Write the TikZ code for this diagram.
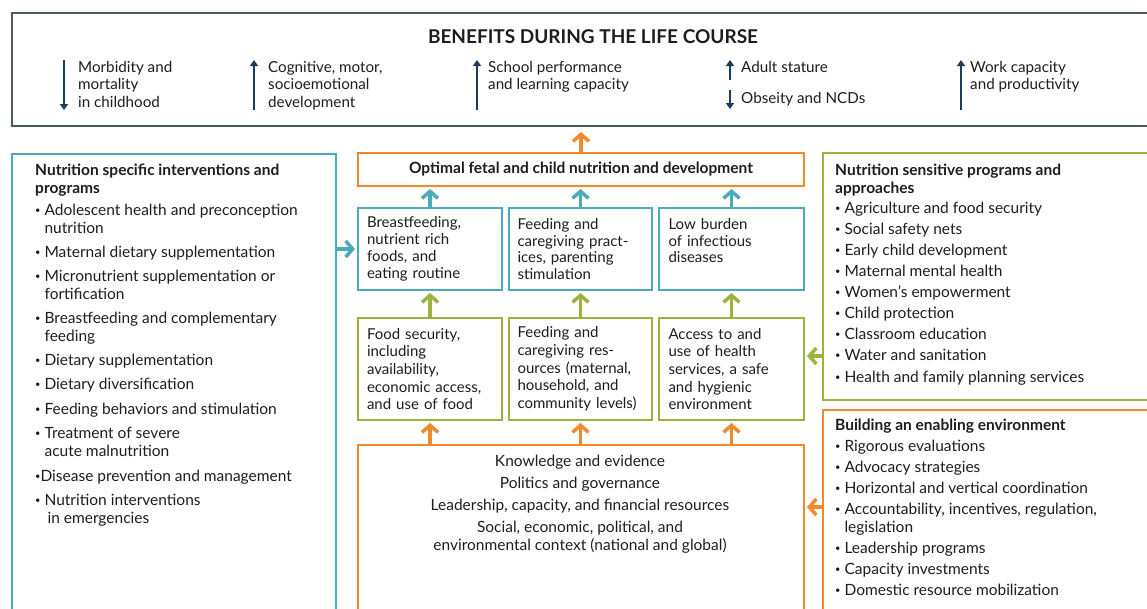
\documentclass[tikz,border=0pt]{standalone}
\usepackage{fontspec}
\setmainfont{Lato}
\usepackage{graphicx}
\usetikzlibrary{positioning}
\usetikzlibrary{arrows.meta}
\usetikzlibrary{calc}
\definecolor{slate}{HTML}{4B5A64}
\definecolor{navy}{HTML}{1D3C5A}
\definecolor{nteal}{HTML}{4AACB8}
\definecolor{ngreen}{HTML}{9BB43C}
\definecolor{norange}{HTML}{F08A2D}
\definecolor{ink}{HTML}{1E1E1E}
\newcommand{\bul}{\raisebox{0.25ex}{\scalebox{0.6}{\textbullet}}}
\tikzstyle{box}=[draw,line width=2pt,inner sep=0pt,anchor=north west]
\tikzstyle{tealbox}=[box,draw=nteal]
\tikzstyle{greenbox}=[box,draw=ngreen]
\tikzstyle{orangebox}=[box,draw=norange]
\tikzstyle{midbox}=[minimum height=82pt,text width=126pt,align=left,text=ink,font=\fontsize{15}{16.8}\selectfont]
\tikzstyle{lowbox}=[midbox,minimum height=102pt,font=\fontsize{15}{17.7}\selectfont]
\tikzstyle{headtext}=[anchor=base west,align=left,inner sep=0pt,text=ink,font=\bfseries\fontsize{15.5}{18}\selectfont]
\tikzstyle{itemtext}=[anchor=base west,align=left,inner sep=0pt,text=ink,font=\fontsize{15.5}{18}\selectfont]
\tikzstyle{bentext}=[anchor=base west,align=left,inner sep=0pt,text=ink,font=\fontsize{15.2}{17.5}\selectfont]
\tikzstyle{benarrow}=[draw=navy,line width=1.8pt,-{Triangle[length=6pt,width=8pt]}]
\tikzstyle{flow}=[line width=3.2pt,-{Straight Barb[length=7pt,width=16pt,line width=3.5pt]},shorten >=2pt]

\begin{document}
\begin{tikzpicture}[x=1pt,y=-1pt]
    \useasboundingbox (0,0) rectangle (1147,608);
    \clip (0,0) rectangle (1147,608);
    \fill[white] (0,0) rectangle (1147,608);

    % Benefits during the life course
    \node[box,draw=slate,minimum width=1160pt,minimum height=113pt] (life) at (11,12) {};
    \node[anchor=base,inner sep=0pt,text=ink,font=\bfseries\fontsize{19}{20}\selectfont] (ttl) at (593,43) {BENEFITS DURING THE LIFE COURSE};
    % (base anchor sits on the last line)
    \foreach \pos/\name/\label in {{(78,107)/ben1/{Morbidity and\\mortality\\in childhood}}, {(268,107)/ben2/{Cognitive, motor,\\socioemotional\\development}}, {(488,89.5)/ben3/{School performance\\and learning capacity}}, {(741,72)/ben4/{Adult stature}}, {(741,103)/ben5/{Obseity and NCDs}}, {(970,89.5)/ben6/{Work capacity\\and productivity}}}
        \node[bentext] (\name) at \pos {\label};
    \foreach \a/\b in {{(64,60)/(64,110)}, {(254,110)/(254,60)}, {(477,110)/(477,60)}, {(730,80)/(730,60)}, {(730,90)/(730,109)}, {(961,110)/(961,60)}}
        \draw[benarrow] \a -- \b;

    % Center column
    \node[orangebox,minimum width=446pt,minimum height=33pt,text=ink,font=\bfseries\fontsize{15.5}{16}\selectfont] (opt) at (357,152) {Optimal fetal and child nutrition and development};
    \node[tealbox,midbox,minimum width=144pt] (tb1) at (357,207) {Breastfeeding,\\nutrient rich\\foods, and\\eating routine};
    \node[tealbox,midbox,minimum width=143pt] (tb2) at (508,207) {Feeding and\\caregiving pract-\\ices, parenting\\stimulation};
    \node[tealbox,midbox,minimum width=145pt] (tb3) at (658,207) {Low burden\\of infectious\\diseases\\\mbox{}};
    \node[greenbox,lowbox,minimum width=144pt] (gb1) at (357,317) {Food security,\\including\\availability,\\economic access,\\and use of food};
    \node[greenbox,lowbox,minimum width=143pt] (gb2) at (508,317) {Feeding and\\caregiving res-\\ources (maternal,\\household, and\\community levels)};
    \node[greenbox,lowbox,minimum width=145pt] (gb3) at (658,317) {Access to and\\use of health\\services, a safe\\and hygienic\\environment};
    \node[orangebox,minimum width=446pt,minimum height=300pt] (ob) at (357,444) {};
    \node[anchor=base,align=center,inner sep=0pt,text=ink,font=\fontsize{15.5}{18}\selectfont] (ctx) at (580,550) {Knowledge and evidence\\[4pt]Politics and governance\\[4pt]Leadership, capacity, and financial resources\\[4pt]Social, economic, political, and\\environmental context (national and global)};

    % Arrows up the column
    \draw[flow,norange,shorten >=5pt] (opt.north) -- (opt.north |- life.south);
    \foreach \i in {1,2,3} {
        \draw[flow,nteal] (tb\i.north) -- (tb\i.north |- opt.south);
        \draw[flow,ngreen] (gb\i.north) -- (tb\i.south);
        \draw[flow,norange] (gb\i.south |- ob.north) -- (gb\i.south);
    }

    % Nutrition specific interventions
    \node[tealbox,minimum width=324pt,minimum height=520pt] (spec) at (11,153) {};
    \node[headtext] (spechead) at (35,193) {Nutrition specific interventions and\\programs};
    \foreach \y/\name/\label in {233/s1/{\bul\ Adolescent health and preconception\\\phantom{\bul\ }nutrition}, 257/s2/{\bul\ Maternal dietary supplementation}, 299/s3/{\bul\ Micronutrient supplementation or\\\phantom{\bul\ }fortification}, 341/s4/{\bul\ Breastfeeding and complementary\\\phantom{\bul\ }feeding}, 365/s5/{\bul\ Dietary supplementation}, 389/s6/{\bul\ Dietary diversification}, 414/s7/{\bul\ Feeding behaviors and stimulation}, 456/s8/{\bul\ Treatment of severe\\\phantom{\bul\ }acute malnutrition}, 481/s9/{\bul Disease prevention and management}, 523/s10/{\bul\ Nutrition interventions\\\phantom{\bul\ }\hspace{3pt}in emergencies}}
        \node[itemtext] (\name) at (35,\y) {\label};
    \draw[flow,nteal] (spec.east |- tb1.west) -- (tb1.west);

    % Nutrition sensitive programs
    \node[greenbox,minimum width=400pt,minimum height=247pt] (sens) at (822,152) {};
    \node[headtext] (senshead) at (835,193) {Nutrition sensitive programs and\\approaches};
    \foreach \y/\name/\label in {213/n1/{Agriculture and food security}, 234/n2/{Social safety nets}, 255/n3/{Early child development}, 276/n4/{Maternal mental health}, 297/n5/{Women’s empowerment}, 318/n6/{Child protection}, 339/n7/{Classroom education}, 360/n8/{Water and sanitation}, 382/n9/{Health and family planning services}}
        \node[itemtext] (\name) at (835,\y) {\bul\ \label};
    \coordinate (gin) at ($(gb3.east)+(0,-13)$);
    \draw[flow,ngreen] (gin -| sens.west) -- (gin);

    % Building an enabling environment
    \node[orangebox,minimum width=400pt,minimum height=300pt] (enab) at (822,409) {};
    \node[headtext] (enabhead) at (835,430) {Building an enabling environment};
    \foreach \y/\name/\label in {451/e1/{\bul\ Rigorous evaluations}, 472/e2/{\bul\ Advocacy strategies}, 493/e3/{\bul\ Horizontal and vertical coordination}, 532/e4/{\bul\ Accountability, incentives, regulation,\\\phantom{\bul\ }legislation}, 553/e5/{\bul\ Leadership programs}, 574/e6/{\bul\ Capacity investments}, 595/e7/{\bul\ Domestic resource mobilization}}
        \node[itemtext] (\name) at (835,\y) {\label};
    \coordinate (oin) at ($(ob.north east)+(0,63)$);
    \draw[flow,norange] (oin -| enab.west) -- (oin);
\end{tikzpicture}
\end{document}
